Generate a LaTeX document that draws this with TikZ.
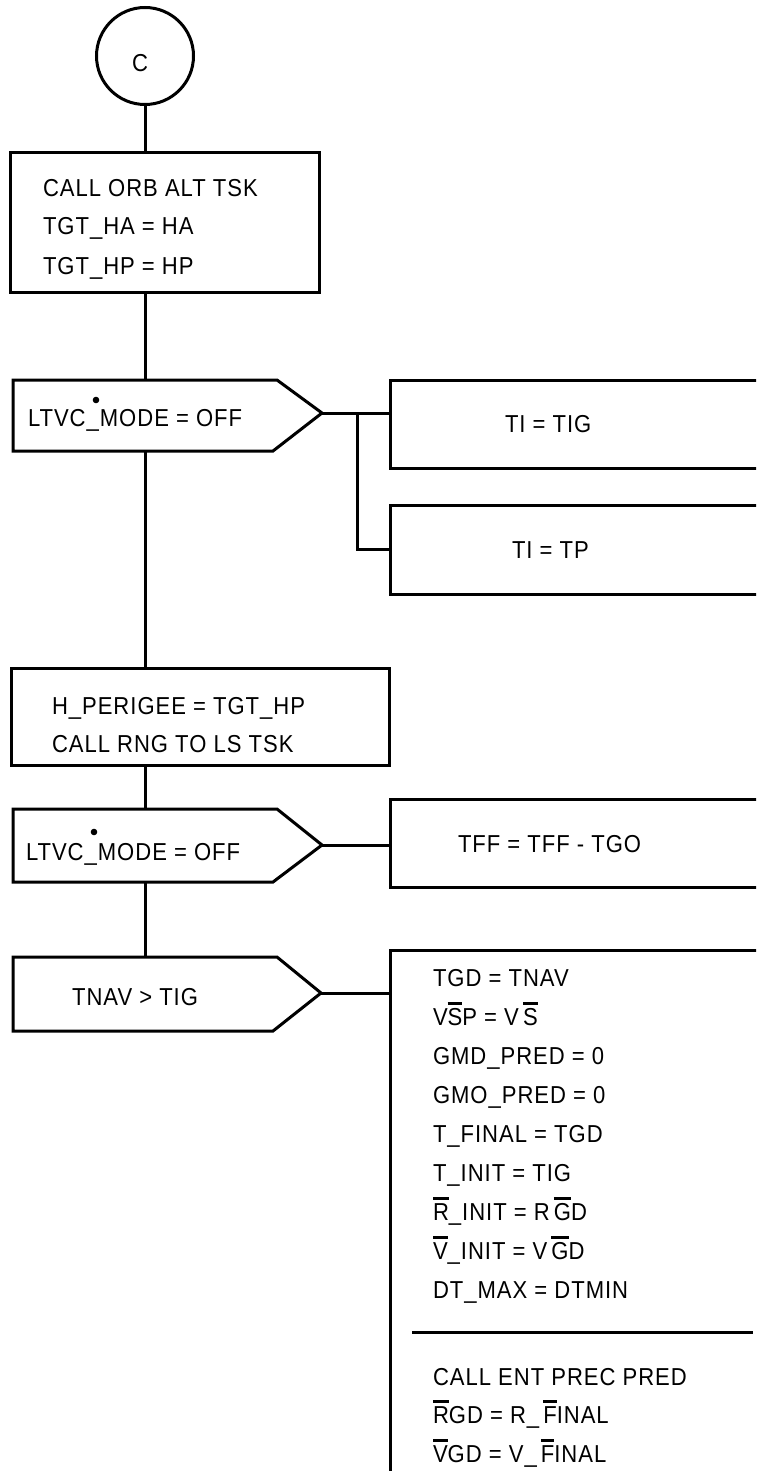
\documentclass[tikz,border=0pt]{standalone}
\usepackage{fontspec}
\setmainfont[LetterSpace=4.0, FakeStretch=0.9]{Liberation Sans}
\newcommand\ovl[1]{\setbox0\hbox{#1}\rlap{\rule[20.3pt]{\wd0}{2.4pt}}\box0}
\begin{document}
\begin{tikzpicture}[x=1pt,y=-1pt, line width=3pt,
  every node/.style={font=\fontsize{24.5}{29}\selectfont},
  txt/.style={anchor=base west, inner sep=0pt, outer sep=0pt},
  box/.style={draw, rectangle, anchor=north west, inner sep=0pt, outer sep=0pt},
  ]
\useasboundingbox (0,0) rectangle (756,1471);
\clip (0,0) rectangle (756,1471);

% start connector
\node[draw, circle, minimum size=97pt, inner sep=0pt, outer sep=0pt] (c) at (145,56) {};
\node[inner sep=0pt] (ctext) at (140,63) {C};

% box 1
\node[box, minimum width=309pt, minimum height=139pt] (b1) at (10,153) {};
\node[txt] (t1a) at (43,197) {CALL ORB ALT TSK};
\node[txt] (t1b) at (43,235) {TGT\_HA = HA};
\node[txt] (t1c) at (43,274) {TGT\_HP = HP};

% decision 1
\coordinate (p1n) at (145,380);
\coordinate (p1s) at (145,451);
\coordinate (p1t) at (322,413);
\draw[line join=miter] (13,380) -- (277,380) -- (p1t) -- (273,451) -- (13,451) -- cycle;
\node[txt] (m1) at (28,426) {LTVC\_MODE = OFF};
\fill (96,400) circle (3.3pt);

\node[box, minimum width=400pt, minimum height=88pt] (btig) at (390,380) {};
\node[txt] (tig) at (505,432) {TI = TIG};
\node[box, minimum width=400pt, minimum height=89pt] (btp) at (390,505) {};
\node[txt] (tp) at (512,558) {TI = TP};

% box 3
\node[box, minimum width=378pt, minimum height=97pt] (b3) at (11,668) {};
\node[txt] (h1) at (52,714) {H\_PERIGEE = TGT\_HP};
\node[txt] (h2) at (52,752) {CALL RNG TO LS TSK};

% decision 2
\coordinate (p2n) at (145,809);
\coordinate (p2s) at (145,882);
\coordinate (p2t) at (322,845);
\draw[line join=miter] (13,809) -- (277,809) -- (p2t) -- (273,882) -- (13,882) -- cycle;
\node[txt] (m2) at (26,860) {LTVC\_MODE = OFF};
\fill (94,832) circle (3.3pt);

\node[box, minimum width=400pt, minimum height=88pt] (btff) at (390,799) {};
\node[txt] (tff) at (458,852) {TFF = TFF - TGO};

% decision 3
\coordinate (p3n) at (145,957);
\coordinate (p3s) at (145,1031);
\coordinate (p3t) at (321,993);
\draw[line join=miter] (13,957) -- (277,957) -- (p3t) -- (273,1031) -- (13,1031) -- cycle;
\node[txt, anchor=base east] (tnav) at (198,1005) {TNAV > TIG};

\node[box, minimum width=400pt, minimum height=600pt] (bbig) at (390,950) {};
\node[txt] (g1) at (433,986) {TGD = TNAV};
\node[txt] (g2) at (433,1025) {V\ovl{S}P = V\,\ovl{S}};
\node[txt] (g3) at (433,1064) {GMD\_PRED = 0};
\node[txt] (g4) at (433,1103) {GMO\_PRED = 0};
\node[txt] (g5) at (433,1142) {T\_FINAL = TGD};
\node[txt] (g6) at (433,1181) {T\_INIT = TIG};
\node[txt] (g7) at (433,1220) {\ovl{R}\_INIT = R\,\ovl{G}D};
\node[txt] (g8) at (433,1259) {\ovl{V}\_INIT = V\,\ovl{G}D};
\node[txt] (g9) at (433,1298) {DT\_MAX = DTMIN};
\coordinate (s1) at (412,1332);
\coordinate (s2) at (753,1332);
\draw (s1) -- (s2);
\node[txt] (g10) at (433,1385) {CALL ENT PREC PRED};
\node[txt] (g11) at (433,1423) {\ovl{R}GD = R\_\,\ovl{F}INAL};
\node[txt] (g12) at (433,1462) {\ovl{V}GD = V\_\,\ovl{F}INAL};

% connectors
\draw (c.south) -- (c.south |- b1.north);
\draw (c.south |- b1.south) -- (p1n);
\draw (p1t) -- (p1t -| btig.west);
\coordinate (j1) at (357,413);
\draw (j1) |- (btp.west);
\draw (p1s) -- (p1s |- b3.north);
\draw (p1s |- b3.south) -- (p2n);
\draw (p2t) -- (p2t -| btff.west);
\draw (p2s) -- (p3n);
\draw (p3t) -- (p3t -| bbig.west);
\end{tikzpicture}
\end{document}
